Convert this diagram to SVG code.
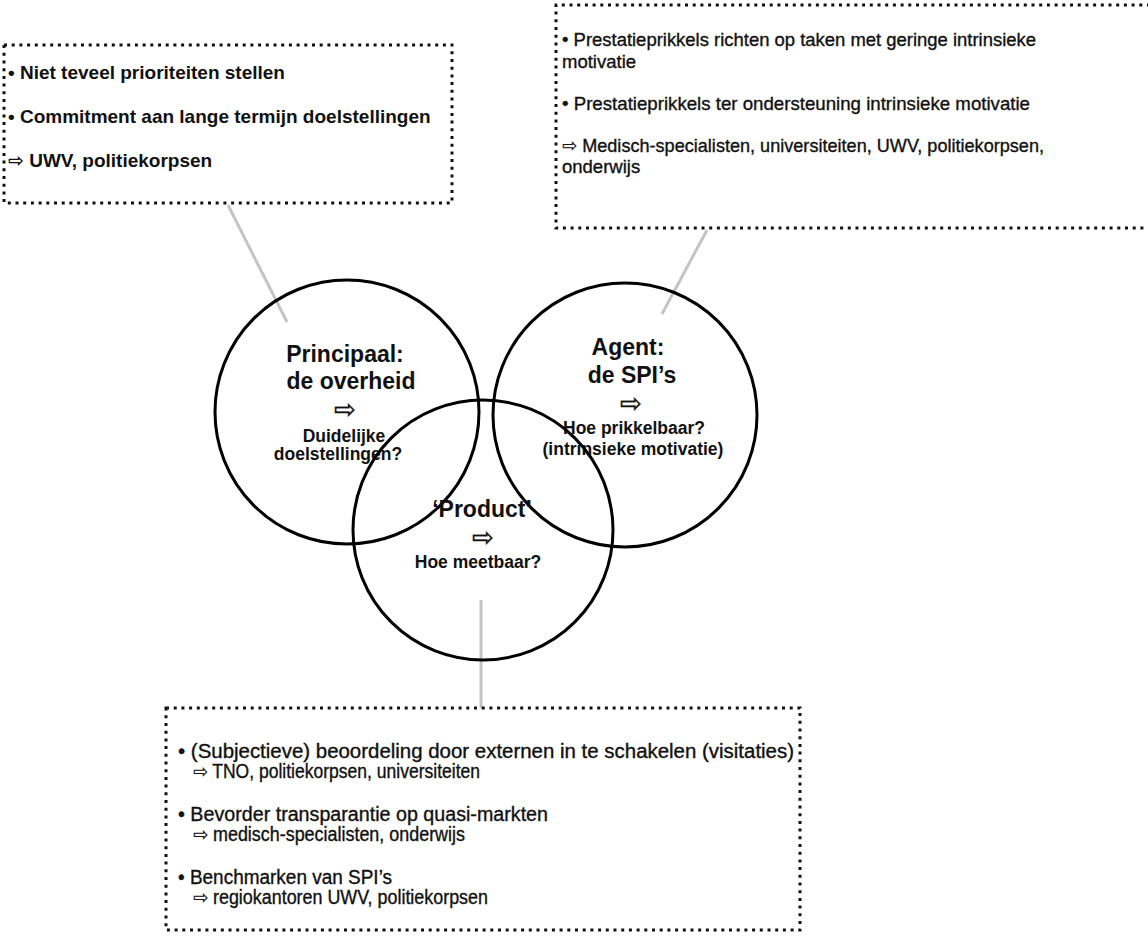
<svg xmlns="http://www.w3.org/2000/svg" width="1148" height="942" viewBox="0 0 1148 942">
<style>
.box{fill:none;stroke:#111;stroke-width:3;stroke-dasharray:3 4.7}
.circ{fill:none;stroke:#000;stroke-width:3}
.conn{stroke:#c4c4c4;stroke-width:3;fill:none}
text{font-family:"Liberation Sans",Arial,sans-serif;fill:#111}
.tl{font-size:19px;font-weight:bold}
.tr{font-size:18.5px;stroke:#111;stroke-width:0.35}
.bt{font-size:19.5px;stroke:#111;stroke-width:0.35}
.t1{font-size:23px;font-weight:bold;text-anchor:middle}
.t2{font-size:17.5px;font-weight:bold;text-anchor:middle}
.ar{font-family:"DejaVu Sans",sans-serif;font-size:26px;text-anchor:middle;stroke:#111;stroke-width:0.4}
.ars{font-family:"DejaVu Sans",sans-serif;stroke-width:0.2}
</style>
<rect width="1148" height="942" fill="#fff"/>
<g id="connectors">
<line class="conn" x1="228" y1="205" x2="287" y2="322"/>
<line class="conn" x1="707" y1="230" x2="662" y2="314"/>
<line class="conn" x1="481" y1="600" x2="481" y2="708"/>
</g>
<g id="box-topleft">
<rect class="box" x="4" y="45" width="448" height="158"/>
<text class="tl" x="8" y="79">• Niet teveel prioriteiten stellen</text>
<text class="tl" x="8" y="123">• Commitment aan lange termijn doelstellingen</text>
<text class="tl" x="8" y="167"><tspan class="ars">⇨</tspan> UWV, politiekorpsen</text>
</g>
<g id="box-topright">
<path class="box" d="M1150 5 H556 V228 H1150"/>
<text class="tr" x="562" y="46" textLength="474" lengthAdjust="spacingAndGlyphs">• Prestatieprikkels richten op taken met geringe intrinsieke</text>
<text class="tr" x="562" y="68">motivatie</text>
<text class="tr" x="562" y="110" textLength="468" lengthAdjust="spacingAndGlyphs">• Prestatieprikkels ter ondersteuning intrinsieke motivatie</text>
<text class="tr" x="562" y="152" textLength="482" lengthAdjust="spacingAndGlyphs"><tspan class="ars">⇨</tspan> Medisch-specialisten, universiteiten, UWV, politiekorpsen,</text>
<text class="tr" x="562" y="173">onderwijs</text>
</g>
<g id="circle-principaal">
<circle class="circ" cx="347" cy="412" r="132"/>
<text class="t1" x="345" y="362">Principaal:</text>
<text class="t1" x="351" y="389">de overheid</text>
<text class="ar" x="345" y="418">⇨</text>
<text class="t2" x="344" y="442">Duidelijke</text>
<text class="t2" x="338" y="460">doelstellingen?</text>
</g>
<g id="circle-agent">
<circle class="circ" cx="625" cy="415" r="132"/>
<text class="t1" x="628" y="355">Agent:</text>
<text class="t1" x="632" y="383">de SPI’s</text>
<text class="ar" x="631" y="412">⇨</text>
<text class="t2" x="634" y="434">Hoe prikkelbaar?</text>
<text class="t2" x="633" y="455">(intrinsieke motivatie)</text>
</g>
<g id="circle-product">
<circle class="circ" cx="483" cy="530" r="130"/>
<text class="t1" x="482" y="517">‘Product’</text>
<text class="ar" x="483" y="546">⇨</text>
<text class="t2" x="478" y="568">Hoe meetbaar?</text>
</g>
<g id="box-bottom">
<rect class="box" x="166" y="708" width="634" height="222"/>
<text class="bt" x="178" y="758" textLength="616" lengthAdjust="spacingAndGlyphs">• (Subjectieve) beoordeling door externen in te schakelen (visitaties)</text>
<text class="bt" x="193" y="778" textLength="287" lengthAdjust="spacingAndGlyphs"><tspan class="ars">⇨</tspan> TNO, politiekorpsen, universiteiten</text>
<text class="bt" x="178" y="821" textLength="370" lengthAdjust="spacingAndGlyphs">• Bevorder transparantie op quasi-markten</text>
<text class="bt" x="193" y="841" textLength="272" lengthAdjust="spacingAndGlyphs"><tspan class="ars">⇨</tspan> medisch-specialisten, onderwijs</text>
<text class="bt" x="178" y="884" textLength="214" lengthAdjust="spacingAndGlyphs">• Benchmarken van SPI’s</text>
<text class="bt" x="193" y="904" textLength="295" lengthAdjust="spacingAndGlyphs"><tspan class="ars">⇨</tspan> regiokantoren UWV, politiekorpsen</text>
</g>
</svg>
